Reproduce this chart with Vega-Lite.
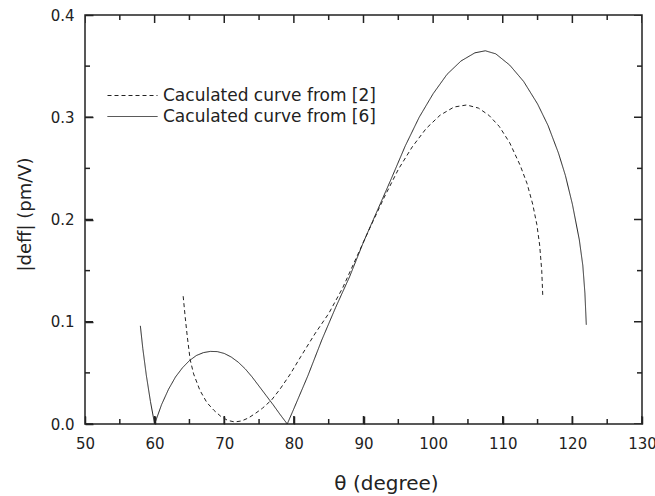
{
  "$schema": "https://vega.github.io/schema/vega-lite/v6.json",
  "width": 557,
  "height": 409,
  "autosize": {"type": "none"},
  "padding": {"left": 85, "top": 15, "right": 13, "bottom": 72},
  "background": "white",
  "config": {"view": {"stroke": "#222", "strokeWidth": 1.5}, "font": "DejaVu Sans"},
  "datasets": {
    "curves": [
      {"series": "Caculated curve from [6]", "theta": 57.95, "deff": 0.096},
      {"series": "Caculated curve from [6]", "theta": 58.3, "deff": 0.074},
      {"series": "Caculated curve from [6]", "theta": 58.8, "deff": 0.048},
      {"series": "Caculated curve from [6]", "theta": 59.4, "deff": 0.022},
      {"series": "Caculated curve from [6]", "theta": 60.0, "deff": 0.0},
      {"series": "Caculated curve from [6]", "theta": 61, "deff": 0.019},
      {"series": "Caculated curve from [6]", "theta": 62, "deff": 0.034},
      {"series": "Caculated curve from [6]", "theta": 63, "deff": 0.046},
      {"series": "Caculated curve from [6]", "theta": 64, "deff": 0.055},
      {"series": "Caculated curve from [6]", "theta": 65, "deff": 0.062},
      {"series": "Caculated curve from [6]", "theta": 66, "deff": 0.067},
      {"series": "Caculated curve from [6]", "theta": 67, "deff": 0.0698},
      {"series": "Caculated curve from [6]", "theta": 68, "deff": 0.071},
      {"series": "Caculated curve from [6]", "theta": 69, "deff": 0.0708},
      {"series": "Caculated curve from [6]", "theta": 70, "deff": 0.069},
      {"series": "Caculated curve from [6]", "theta": 71, "deff": 0.0655},
      {"series": "Caculated curve from [6]", "theta": 72, "deff": 0.0605},
      {"series": "Caculated curve from [6]", "theta": 73, "deff": 0.054},
      {"series": "Caculated curve from [6]", "theta": 74, "deff": 0.046},
      {"series": "Caculated curve from [6]", "theta": 75, "deff": 0.037},
      {"series": "Caculated curve from [6]", "theta": 76, "deff": 0.028},
      {"series": "Caculated curve from [6]", "theta": 77, "deff": 0.019},
      {"series": "Caculated curve from [6]", "theta": 78, "deff": 0.0095},
      {"series": "Caculated curve from [6]", "theta": 79.05, "deff": 0.0},
      {"series": "Caculated curve from [6]", "theta": 80, "deff": 0.015},
      {"series": "Caculated curve from [6]", "theta": 82, "deff": 0.047},
      {"series": "Caculated curve from [6]", "theta": 84, "deff": 0.082},
      {"series": "Caculated curve from [6]", "theta": 86, "deff": 0.114},
      {"series": "Caculated curve from [6]", "theta": 88, "deff": 0.144},
      {"series": "Caculated curve from [6]", "theta": 90, "deff": 0.178},
      {"series": "Caculated curve from [6]", "theta": 92, "deff": 0.209},
      {"series": "Caculated curve from [6]", "theta": 94, "deff": 0.240},
      {"series": "Caculated curve from [6]", "theta": 96, "deff": 0.272},
      {"series": "Caculated curve from [6]", "theta": 98, "deff": 0.300},
      {"series": "Caculated curve from [6]", "theta": 100, "deff": 0.323},
      {"series": "Caculated curve from [6]", "theta": 102, "deff": 0.342},
      {"series": "Caculated curve from [6]", "theta": 104, "deff": 0.355},
      {"series": "Caculated curve from [6]", "theta": 106, "deff": 0.363},
      {"series": "Caculated curve from [6]", "theta": 107.5, "deff": 0.365},
      {"series": "Caculated curve from [6]", "theta": 109, "deff": 0.362},
      {"series": "Caculated curve from [6]", "theta": 111, "deff": 0.351},
      {"series": "Caculated curve from [6]", "theta": 113, "deff": 0.335},
      {"series": "Caculated curve from [6]", "theta": 115, "deff": 0.313},
      {"series": "Caculated curve from [6]", "theta": 116.5, "deff": 0.292},
      {"series": "Caculated curve from [6]", "theta": 118, "deff": 0.265},
      {"series": "Caculated curve from [6]", "theta": 119, "deff": 0.243},
      {"series": "Caculated curve from [6]", "theta": 120, "deff": 0.215},
      {"series": "Caculated curve from [6]", "theta": 121, "deff": 0.180},
      {"series": "Caculated curve from [6]", "theta": 121.5, "deff": 0.155},
      {"series": "Caculated curve from [6]", "theta": 121.8, "deff": 0.128},
      {"series": "Caculated curve from [6]", "theta": 122.0, "deff": 0.097},
      {"series": "Caculated curve from [2]", "theta": 64.1, "deff": 0.125},
      {"series": "Caculated curve from [2]", "theta": 64.4, "deff": 0.104},
      {"series": "Caculated curve from [2]", "theta": 64.7, "deff": 0.085},
      {"series": "Caculated curve from [2]", "theta": 65.1, "deff": 0.063},
      {"series": "Caculated curve from [2]", "theta": 65.6, "deff": 0.049},
      {"series": "Caculated curve from [2]", "theta": 66.5, "deff": 0.033},
      {"series": "Caculated curve from [2]", "theta": 67.5, "deff": 0.021},
      {"series": "Caculated curve from [2]", "theta": 68.5, "deff": 0.0135},
      {"series": "Caculated curve from [2]", "theta": 69.5, "deff": 0.0075},
      {"series": "Caculated curve from [2]", "theta": 70.5, "deff": 0.0035},
      {"series": "Caculated curve from [2]", "theta": 71.5, "deff": 0.002},
      {"series": "Caculated curve from [2]", "theta": 72.5, "deff": 0.003},
      {"series": "Caculated curve from [2]", "theta": 73.5, "deff": 0.006},
      {"series": "Caculated curve from [2]", "theta": 74.5, "deff": 0.0105},
      {"series": "Caculated curve from [2]", "theta": 75.5, "deff": 0.0155},
      {"series": "Caculated curve from [2]", "theta": 76.8, "deff": 0.0235},
      {"series": "Caculated curve from [2]", "theta": 78, "deff": 0.034},
      {"series": "Caculated curve from [2]", "theta": 79.5, "deff": 0.049},
      {"series": "Caculated curve from [2]", "theta": 81, "deff": 0.066},
      {"series": "Caculated curve from [2]", "theta": 83, "deff": 0.088},
      {"series": "Caculated curve from [2]", "theta": 85, "deff": 0.108},
      {"series": "Caculated curve from [2]", "theta": 87, "deff": 0.133},
      {"series": "Caculated curve from [2]", "theta": 89, "deff": 0.163},
      {"series": "Caculated curve from [2]", "theta": 91, "deff": 0.193},
      {"series": "Caculated curve from [2]", "theta": 93, "deff": 0.222},
      {"series": "Caculated curve from [2]", "theta": 95, "deff": 0.249},
      {"series": "Caculated curve from [2]", "theta": 97, "deff": 0.271},
      {"series": "Caculated curve from [2]", "theta": 99, "deff": 0.289},
      {"series": "Caculated curve from [2]", "theta": 101, "deff": 0.302},
      {"series": "Caculated curve from [2]", "theta": 103, "deff": 0.310},
      {"series": "Caculated curve from [2]", "theta": 104.8, "deff": 0.312},
      {"series": "Caculated curve from [2]", "theta": 106.5, "deff": 0.309},
      {"series": "Caculated curve from [2]", "theta": 108, "deff": 0.302},
      {"series": "Caculated curve from [2]", "theta": 109.5, "deff": 0.291},
      {"series": "Caculated curve from [2]", "theta": 111, "deff": 0.275},
      {"series": "Caculated curve from [2]", "theta": 112.5, "deff": 0.253},
      {"series": "Caculated curve from [2]", "theta": 113.5, "deff": 0.235},
      {"series": "Caculated curve from [2]", "theta": 114.3, "deff": 0.215},
      {"series": "Caculated curve from [2]", "theta": 114.9, "deff": 0.195},
      {"series": "Caculated curve from [2]", "theta": 115.3, "deff": 0.175},
      {"series": "Caculated curve from [2]", "theta": 115.6, "deff": 0.150},
      {"series": "Caculated curve from [2]", "theta": 115.75, "deff": 0.125}
    ],
    "tickvals": [
      {"axis": "x", "v": 50, "major": true},
      {"axis": "x", "v": 55, "major": false},
      {"axis": "x", "v": 60, "major": true},
      {"axis": "x", "v": 65, "major": false},
      {"axis": "x", "v": 70, "major": true},
      {"axis": "x", "v": 75, "major": false},
      {"axis": "x", "v": 80, "major": true},
      {"axis": "x", "v": 85, "major": false},
      {"axis": "x", "v": 90, "major": true},
      {"axis": "x", "v": 95, "major": false},
      {"axis": "x", "v": 100, "major": true},
      {"axis": "x", "v": 105, "major": false},
      {"axis": "x", "v": 110, "major": true},
      {"axis": "x", "v": 115, "major": false},
      {"axis": "x", "v": 120, "major": true},
      {"axis": "x", "v": 125, "major": false},
      {"axis": "x", "v": 130, "major": true},
      {"axis": "y", "v": 0, "major": true},
      {"axis": "y", "v": 0.05, "major": false},
      {"axis": "y", "v": 0.1, "major": true},
      {"axis": "y", "v": 0.15, "major": false},
      {"axis": "y", "v": 0.2, "major": true},
      {"axis": "y", "v": 0.25, "major": false},
      {"axis": "y", "v": 0.3, "major": true},
      {"axis": "y", "v": 0.35, "major": false},
      {"axis": "y", "v": 0.4, "major": true}
    ]
  },
  "layer": [
    {
      "data": {"name": "curves"},
      "mark": {"type": "line", "color": "#222", "strokeWidth": 1},
      "encoding": {
        "x": {
          "field": "theta", "type": "quantitative",
          "scale": {"domain": [50, 130], "nice": false, "zero": false},
          "axis": {
            "orient": "bottom", "offset": -8, "domain": false, "zindex": 1,
            "values": [50, 60, 70, 80, 90, 100, 110, 120, 130],
            "ticks": true, "tickSize": 8, "tickWidth": 1.5, "tickColor": "#222",
            "grid": false,
            "labelFontSize": 15, "labelColor": "#222", "labelPadding": 12, "labelFlush": false, "labelOverlap": false,
            "title": "θ (degree)", "titleFontSize": 20, "titleFontWeight": "normal", "titleColor": "#222",
            "titleX": 301, "titleY": 73, "titleAlign": "center", "titleBaseline": "alphabetic"
          }
        },
        "y": {
          "field": "deff", "type": "quantitative",
          "scale": {"domain": [0, 0.4], "nice": false},
          "axis": {
            "orient": "left", "offset": -8, "domain": false, "zindex": 1,
            "values": [0, 0.1, 0.2, 0.3, 0.4],
            "format": ".1f",
            "ticks": true, "tickSize": 8, "tickWidth": 1.5, "tickColor": "#222",
            "grid": false,
            "labelFontSize": 15, "labelColor": "#222", "labelPadding": 11, "labelFlush": false, "labelOverlap": false,
            "title": "|deff| (pm/V)", "titleFontSize": 18, "titleFontWeight": "normal", "titleColor": "#222",
            "titleX": -68, "titleY": 199, "titleAngle": -90, "titleAlign": "center", "titleBaseline": "middle"
          }
        },
        "strokeDash": {
          "field": "series", "type": "nominal",
          "scale": {"domain": ["Caculated curve from [2]", "Caculated curve from [6]"], "range": [[4, 3], [1, 0]]},
          "legend": {
            "orient": "none", "legendX": 37, "legendY": 70, "title": null,
            "symbolType": "M-2.5,0H2.5", "symbolSize": 400, "symbolStrokeWidth": 1, "symbolStrokeColor": "#222",
            "labelFontSize": 17, "labelColor": "#222", "labelOffset": 20, "labelLimit": 0, "rowPadding": 2
          }
        }
      }
    },
    {
      "data": {"name": "tickvals"},
      "transform": [{"filter": "datum.axis === 'x'"}],
      "mark": {"type": "tick", "orient": "vertical", "clip": true, "color": "#222", "thickness": 1.5, "opacity": 1},
      "encoding": {
        "x": {"field": "v", "type": "quantitative"},
        "y": {"datum": 0, "type": "quantitative"},
        "size": {"condition": {"test": "datum.major", "value": 16}, "value": 10}
      }
    },
    {
      "data": {"name": "tickvals"},
      "transform": [{"filter": "datum.axis === 'x'"}],
      "mark": {"type": "tick", "orient": "vertical", "clip": true, "color": "#222", "thickness": 1.5, "opacity": 1},
      "encoding": {
        "x": {"field": "v", "type": "quantitative"},
        "y": {"datum": 0.4, "type": "quantitative"},
        "size": {"condition": {"test": "datum.major", "value": 16}, "value": 10}
      }
    },
    {
      "data": {"name": "tickvals"},
      "transform": [{"filter": "datum.axis === 'y'"}],
      "mark": {"type": "tick", "orient": "horizontal", "clip": true, "color": "#222", "thickness": 1.5, "opacity": 1},
      "encoding": {
        "x": {"datum": 50, "type": "quantitative"},
        "y": {"field": "v", "type": "quantitative"},
        "size": {"condition": {"test": "datum.major", "value": 16}, "value": 10}
      }
    },
    {
      "data": {"name": "tickvals"},
      "transform": [{"filter": "datum.axis === 'y'"}],
      "mark": {"type": "tick", "orient": "horizontal", "clip": true, "color": "#222", "thickness": 1.5, "opacity": 1},
      "encoding": {
        "x": {"datum": 130, "type": "quantitative"},
        "y": {"field": "v", "type": "quantitative"},
        "size": {"condition": {"test": "datum.major", "value": 16}, "value": 10}
      }
    }
  ]
}
